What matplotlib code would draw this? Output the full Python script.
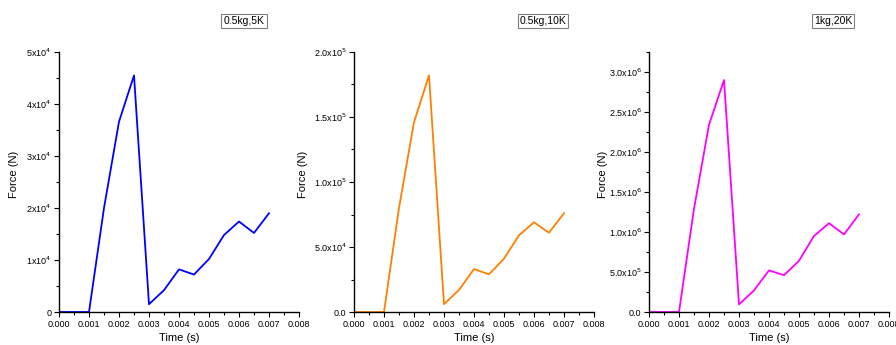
import matplotlib
matplotlib.use("Agg")
import matplotlib.pyplot as plt
from matplotlib.ticker import MultipleLocator, FuncFormatter
import numpy as np

plt.rcParams['font.family'] = ['Liberation Sans', 'DejaVu Sans']

# time (s)
time = [0.0, 0.0005, 0.001, 0.0015, 0.002, 0.0025, 0.003, 0.0035,
        0.004, 0.0045, 0.005, 0.0055, 0.006, 0.0065, 0.007]

# force (N) for each case
force_5k = [0, 0, 0, 2.0e4, 3.66e4, 4.55e4, 0.15e4, 0.42e4,
            0.82e4, 0.72e4, 1.02e4, 1.48e4, 1.74e4, 1.52e4, 1.9e4]
force_10k = [0, 0, 0, 0.80e5, 1.46e5, 1.82e5, 0.06e5, 0.17e5,
             0.33e5, 0.29e5, 0.41e5, 0.59e5, 0.69e5, 0.61e5, 0.76e5]
force_20k = [0, 0, 0, 1.29e6, 2.34e6, 2.90e6, 0.095e6, 0.27e6,
             0.52e6, 0.46e6, 0.64e6, 0.95e6, 1.11e6, 0.97e6, 1.22e6]

titles = ["0.5kg,5K", "0.5kg,10K", "1kg,20K"]
colors = ["#0000ff", "#ff8000", "#ff00ff"]


def fmt_int(v, pos):
    if v == 0:
        return "0"
    e = int(np.floor(np.log10(abs(v))))
    m = v / 10**e
    return r"%dx10$^{%d}$" % (round(m), e)


def fmt_dec(v, pos):
    if v == 0:
        return "0.0"
    e = int(np.floor(np.log10(abs(v))))
    m = v / 10**e
    return r"%.1fx10$^{%d}$" % (m, e)


fig = plt.figure(figsize=(8.96, 3.45), dpi=100)
W, H = 896, 345

panels = [
    # left, right px, data, ylim, major, minor, formatter
    (59, 299, force_5k, 5e4, 1e4, 5e3, fmt_int),
    (354, 594, force_10k, 2e5, 5e4, 2.5e4, fmt_dec),
    (649, 889, force_20k, 3.25e6, 5e5, 2.5e5, fmt_dec),
]
title_x = [244, 543, 833]
ylab_x = [14, 303, 603]

top_px, bot_px = 52, 312
for i, (l, r, f, ytop, maj, mnr, fm) in enumerate(panels):
    ax = fig.add_axes([l / W, 1 - bot_px / H, (r - l) / W, (bot_px - top_px) / H])
    ax.plot(time, f, color=colors[i], lw=1.3)
    ax.set_xlim(0, 0.008)
    ax.set_ylim(0, ytop)
    ax.spines['top'].set_visible(False)
    ax.spines['right'].set_visible(False)
    for s in ['left', 'bottom']:
        ax.spines[s].set_linewidth(1.0)
    ax.xaxis.set_major_locator(MultipleLocator(0.001))
    ax.xaxis.set_minor_locator(MultipleLocator(0.0005))
    ax.xaxis.set_major_formatter(FuncFormatter(lambda v, p: "%.3f" % v))
    ax.yaxis.set_major_locator(MultipleLocator(maj))
    ax.yaxis.set_minor_locator(MultipleLocator(mnr))
    ax.yaxis.set_major_formatter(FuncFormatter(fm))
    ax.tick_params(which='major', length=3.5, width=0.8, labelsize=6.5, pad=2)
    ax.tick_params(which='minor', length=2, width=0.8)
    ax.set_xlabel("Time (s)", fontsize=8, labelpad=3)
    fig.text(ylab_x[i] / W, 1 - 174 / H, "Force (N)", rotation=90,
             ha='center', va='center', fontsize=8)
    fig.text(title_x[i] / W, 1 - 21 / H, titles[i], ha='center', va='center',
             fontsize=7.5,
             bbox=dict(boxstyle='square,pad=0.2', fc='white', ec='#808080', lw=0.8))

fig.savefig("out.png", dpi=100)
